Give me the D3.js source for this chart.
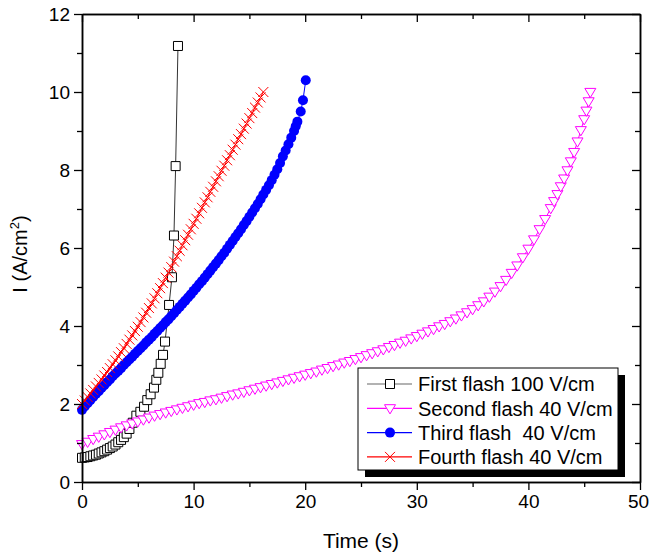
<!DOCTYPE html>
<html>
<head>
<meta charset="utf-8">
<script src="https://cdn.jsdelivr.net/npm/d3@7"></script>
<style>
  body { margin: 0; background: #fff; }
  svg { font-family: "Liberation Sans", Arial, sans-serif; }
</style>
</head>
<body>
<div id="chart"></div>
<script>
// First flash 100 V/cm
const t1 = [0, 0.25, 0.5, 0.75, 1.0, 1.25, 1.5, 1.75, 2.0, 2.25, 2.5, 2.75, 3.0, 3.25, 3.5, 3.75, 4.0, 4.25, 4.55, 4.87, 5.23, 5.56, 5.85, 6.15, 6.45, 6.66, 6.84, 7.05, 7.26, 7.44, 7.8, 8.06, 8.24, 8.39, 8.6]
const i1 = [0.62, 0.63, 0.64, 0.66, 0.68, 0.70, 0.73, 0.76, 0.79, 0.83, 0.87, 0.91, 0.96, 1.02, 1.08, 1.15, 1.24, 1.36, 1.52, 1.70, 1.80, 1.93, 2.10, 2.25, 2.42, 2.62, 2.80, 3.03, 3.26, 3.60, 4.54, 5.25, 6.32, 8.10, 11.18]

// Second flash 40 V/cm
const t2 = [0, 0.5, 1, 1.5, 2, 2.5, 3, 3.5, 4, 4.5, 5, 5.5, 6, 6.5, 7, 7.5, 8, 8.5, 9, 9.5,
  10, 10.5, 11, 11.5, 12, 12.5, 13, 13.5, 14, 14.5, 15, 15.5, 16, 16.5, 17, 17.5, 18, 18.5, 19, 19.5,
  20, 20.5, 21, 21.5, 22, 22.5, 23, 23.5, 24, 24.5, 25, 25.5, 26, 26.5, 27, 27.5, 28, 28.5, 29, 29.5,
  30, 30.5, 31, 31.5, 32, 32.5, 33, 33.5, 34, 34.5, 35, 35.5, 36, 36.5, 37, 37.5, 38, 38.5, 39, 39.5,
  40, 40.5, 41, 41.5, 42, 42.3, 42.6, 42.9, 43.2, 43.5, 43.8, 44.1, 44.4, 44.7, 45.0, 45.2, 45.4, 45.55]
const i2 = [0.97, 1.03, 1.10, 1.16, 1.22, 1.28, 1.34, 1.40, 1.45, 1.50, 1.55, 1.60, 1.65, 1.70, 1.74, 1.78, 1.82, 1.86, 1.90, 1.94,
  1.98, 2.02, 2.05, 2.09, 2.12, 2.16, 2.20, 2.24, 2.27, 2.31, 2.35, 2.39, 2.43, 2.47, 2.51, 2.55, 2.59, 2.63, 2.67, 2.71,
  2.75, 2.79, 2.83, 2.88, 2.92, 2.97, 3.01, 3.06, 3.10, 3.15, 3.20, 3.25, 3.30, 3.35, 3.40, 3.46, 3.51, 3.57, 3.62, 3.68,
  3.74, 3.80, 3.86, 3.92, 3.99, 4.05, 4.12, 4.19, 4.27, 4.35, 4.43, 4.53, 4.63, 4.75, 4.88, 5.02, 5.18, 5.36, 5.55, 5.76,
  5.98, 6.22, 6.48, 6.74, 7.02, 7.20, 7.38, 7.58, 7.78, 7.99, 8.22, 8.46, 8.73, 9.02, 9.30, 9.52, 9.76, 10.0]

// Third flash 40 V/cm
const t3 = [0, 0.25, 0.5, 0.75, 1, 1.25, 1.5, 1.75, 2, 2.25, 2.5, 2.75, 3, 3.25, 3.5, 3.75, 4, 4.25, 4.5, 4.75,
  5, 5.25, 5.5, 5.75, 6, 6.25, 6.5, 6.75, 7, 7.25, 7.5, 7.75, 8, 8.25, 8.5, 8.75, 9, 9.25, 9.5, 9.75,
  10, 10.25, 10.5, 10.75, 11, 11.25, 11.5, 11.75, 12, 12.25, 12.5, 12.75, 13, 13.25, 13.5, 13.75, 14, 14.25, 14.5, 14.75,
  15, 15.25, 15.5, 15.75, 16, 16.25, 16.5, 16.75, 17, 17.25, 17.5, 17.75, 18, 18.25, 18.5, 18.75, 19, 19.15, 19.3,
  19.6, 19.8, 20.05]
const i3 = [1.85, 1.94, 2.02, 2.10, 2.18, 2.26, 2.33, 2.41, 2.48, 2.56, 2.63, 2.71, 2.78, 2.85, 2.92, 3.00, 3.07, 3.14, 3.21, 3.29,
  3.36, 3.43, 3.50, 3.58, 3.65, 3.72, 3.80, 3.87, 3.95, 4.02, 4.10, 4.17, 4.25, 4.33, 4.41, 4.49, 4.57, 4.65, 4.73, 4.81,
  4.90, 4.98, 5.07, 5.15, 5.24, 5.33, 5.42, 5.51, 5.60, 5.69, 5.79, 5.88, 5.98, 6.08, 6.18, 6.28, 6.38, 6.48, 6.59, 6.69,
  6.80, 6.91, 7.02, 7.13, 7.25, 7.37, 7.49, 7.61, 7.74, 7.88, 8.02, 8.18, 8.35, 8.50, 8.66, 8.83, 9.00, 9.12, 9.24,
  9.50, 9.79, 10.30]

// Fourth flash 40 V/cm
const t4 = [0, 0.25, 0.5, 0.75, 1, 1.25, 1.5, 1.75, 2, 2.25, 2.5, 2.75, 3, 3.25, 3.5, 3.75, 4, 4.25, 4.5, 4.75,
  5, 5.25, 5.5, 5.75, 6, 6.25, 6.5, 6.75, 7, 7.25, 7.5, 7.75, 8, 8.25, 8.5, 8.75, 9, 9.25, 9.5, 9.75,
  10, 10.25, 10.5, 10.75, 11, 11.25, 11.5, 11.75, 12, 12.25, 12.5, 12.75, 13, 13.25, 13.5, 13.75, 14, 14.25, 14.5, 14.75,
  15, 15.25, 15.5, 15.75, 16, 16.25]
const i4 = [2.00, 2.09, 2.18, 2.27, 2.36, 2.45, 2.54, 2.63, 2.73, 2.82, 2.92, 3.02, 3.12, 3.22, 3.33, 3.43, 3.54, 3.65, 3.76, 3.87,
  3.98, 4.10, 4.22, 4.34, 4.46, 4.58, 4.71, 4.84, 4.97, 5.10, 5.24, 5.37, 5.51, 5.65, 5.79, 5.93, 6.07, 6.20, 6.34, 6.48,
  6.62, 6.75, 6.89, 7.03, 7.17, 7.30, 7.44, 7.57, 7.71, 7.84, 7.98, 8.11, 8.25, 8.38, 8.52, 8.65, 8.79, 8.92, 9.06, 9.19,
  9.33, 9.46, 9.60, 9.73, 9.86, 10.00]

const seriesNames = ["First flash 100 V/cm", "Second flash 40 V/cm", "Third flash  40 V/cm", "Fourth flash 40 V/cm"]
const xTicks = [0, 10, 20, 30, 40, 50]
const yTicks = [0, 2, 4, 6, 8, 10, 12]

const width = 649
const height = 554
const margin = { left: 82, right: 9, top: 14, bottom: 72 }

const x = d3.scaleLinear().domain([0, 50]).range([margin.left, width - margin.right])
const y = d3.scaleLinear().domain([0, 12]).range([height - margin.bottom, margin.top])

const svg = d3.select("#chart").append("svg")
  .attr("width", width)
  .attr("height", height)

const zip = (ts, is) => ts.map((t, k) => ({ t: t, i: is[k] }))

// marker shapes
const markers = {
  square: "M-4.5,-4.5H4.5V4.5H-4.5Z",
  triangle: "M-5.5,-3.6H5.5L0,5.6Z",
  circle: d3.symbol().type(d3.symbolCircle).size(Math.PI * 25)(),
  cross: "M-5,-5L5,5M-5,5L5,-5"
}

const series = [
  { name: seriesNames[0], data: zip(t1, i1), line: "#333", stroke: "#000", fill: "#fff", shape: "square" },
  { name: seriesNames[1], data: zip(t2, i2), line: "#ff00ff", stroke: "#ff00ff", fill: "#fff", shape: "triangle" },
  { name: seriesNames[2], data: zip(t3, i3), line: "#0000ff", stroke: "none", fill: "#0000ff", shape: "circle" },
  { name: seriesNames[3], data: zip(t4, i4), line: "#ff0000", stroke: "#ff0000", fill: "none", shape: "cross" }
]

const line = d3.line().x(d => x(d.t)).y(d => y(d.i))

series.forEach(s => {
  const g = svg.append("g")
  g.append("path")
    .datum(s.data)
    .attr("d", line)
    .attr("fill", "none")
    .attr("stroke", s.line)
    .attr("stroke-width", 1)
  g.selectAll("path.mk")
    .data(s.data)
    .enter().append("path")
      .attr("class", "mk")
      .attr("d", markers[s.shape])
      .attr("transform", d => `translate(${x(d.t)},${y(d.i)})`)
      .attr("fill", s.fill)
      .attr("stroke", s.stroke)
      .attr("stroke-width", 1)
})

// axes
const styleAxis = g => {
  g.select(".domain").attr("stroke-width", 1.5)
  g.selectAll(".tick line").attr("stroke-width", 1.3)
  g.selectAll(".tick text").attr("font-size", 19).attr("fill", "#000")
}

svg.append("g")
  .attr("transform", `translate(0,${y(0)})`)
  .call(d3.axisBottom(x).tickValues(xTicks).tickSize(8).tickSizeOuter(0).tickPadding(5))
  .call(styleAxis)
  .call(g => g.selectAll(".tick text").filter(d => d == 50).attr("dx", -2))
svg.append("g")
  .attr("transform", `translate(0,${y(0)})`)
  .call(d3.axisBottom(x).tickValues([5, 15, 25, 35, 45]).tickSize(5).tickFormat("").tickSizeOuter(0))
  .call(styleAxis)

svg.append("g")
  .attr("transform", `translate(${x(0)},0)`)
  .call(d3.axisLeft(y).tickValues(yTicks).tickSize(8).tickSizeOuter(0).tickPadding(4))
  .call(styleAxis)
svg.append("g")
  .attr("transform", `translate(${x(0)},0)`)
  .call(d3.axisLeft(y).tickValues([1, 3, 5, 7, 9, 11]).tickSize(5).tickFormat("").tickSizeOuter(0))
  .call(styleAxis)

// top and right frame with inward ticks
svg.append("g")
  .attr("transform", `translate(0,${y(12)})`)
  .call(d3.axisBottom(x).tickValues(xTicks).tickSize(8).tickFormat("").tickSizeOuter(0))
  .call(styleAxis)
svg.append("g")
  .attr("transform", `translate(0,${y(12)})`)
  .call(d3.axisBottom(x).tickValues([5, 15, 25, 35, 45]).tickSize(5).tickFormat("").tickSizeOuter(0))
  .call(styleAxis)
svg.append("g")
  .attr("transform", `translate(${x(50)},0)`)
  .call(d3.axisLeft(y).tickValues(yTicks).tickSize(8).tickFormat("").tickSizeOuter(0))
  .call(styleAxis)
svg.append("g")
  .attr("transform", `translate(${x(50)},0)`)
  .call(d3.axisLeft(y).tickValues([1, 3, 5, 7, 9, 11]).tickSize(5).tickFormat("").tickSizeOuter(0))
  .call(styleAxis)

// axis titles
svg.append("text")
  .attr("x", (x(0) + x(50)) / 2)
  .attr("y", 548)
  .attr("text-anchor", "middle")
  .attr("font-size", 21)
  .text("Time (s)")

const yTitle = svg.append("text")
  .attr("transform", "translate(27,254) rotate(-90)")
  .attr("text-anchor", "middle")
  .attr("font-size", 20)
yTitle.append("tspan").text("I (A/cm")
yTitle.append("tspan").attr("font-size", 13).attr("dy", -8).text("2")
yTitle.append("tspan").attr("dy", 8).text(")")

// legend
const lg = { x: 358, y: 368, w: 260, h: 102 }
svg.append("rect")
  .attr("x", lg.x + 7).attr("y", lg.y + 7)
  .attr("width", lg.w).attr("height", lg.h)
  .attr("fill", "#000")
svg.append("rect")
  .attr("x", lg.x).attr("y", lg.y)
  .attr("width", lg.w).attr("height", lg.h)
  .attr("fill", "#fff")
  .attr("stroke", "#000")
  .attr("stroke-width", 1)

series.forEach((s, k) => {
  const cy = lg.y + 16 + k * 24.3
  const row = svg.append("g")
  row.append("line")
    .attr("x1", lg.x + 9).attr("x2", lg.x + 54)
    .attr("y1", cy).attr("y2", cy)
    .attr("stroke", k == 0 ? "#666" : s.line)
    .attr("stroke-width", 1.2)
  row.append("path")
    .attr("d", markers[s.shape])
    .attr("transform", `translate(${lg.x + 32},${cy})`)
    .attr("fill", s.fill)
    .attr("stroke", s.stroke)
  row.append("text")
    .attr("x", lg.x + 60)
    .attr("y", cy)
    .attr("dy", "0.36em")
    .attr("font-size", 20)
    .style("white-space", "pre")
    .text(s.name)
})
</script>
</body>
</html>
